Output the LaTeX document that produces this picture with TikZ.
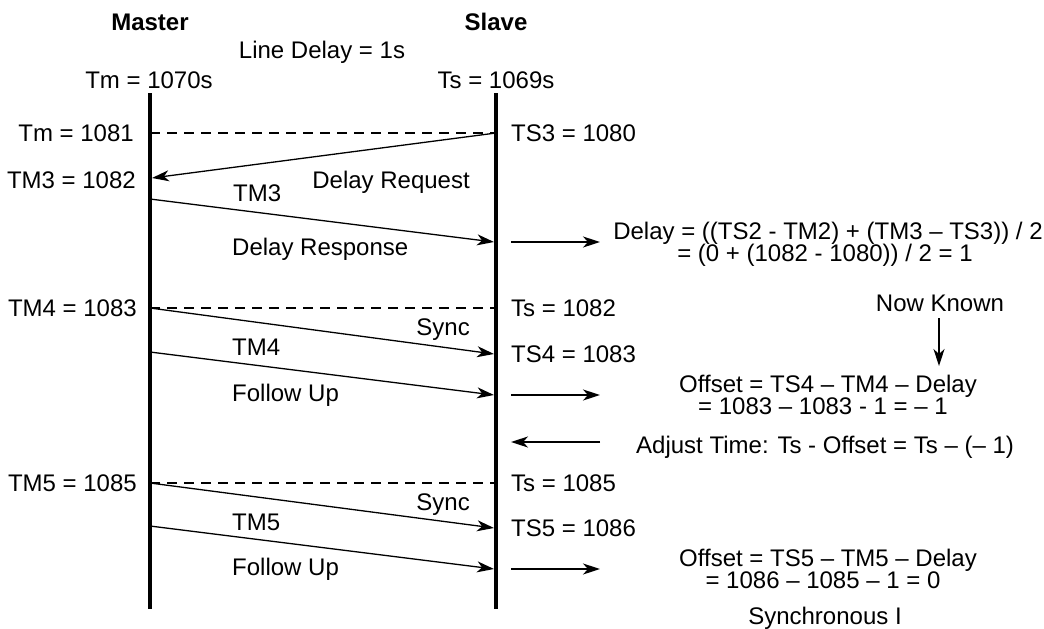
\documentclass[tikz,border=0pt]{standalone}
\usepackage{fontspec}
\setmainfont{Liberation Sans}
\usetikzlibrary{arrows.meta}
\begin{document}
\begin{tikzpicture}[x=1pt,y=-1pt,
  txt/.style={inner sep=0pt,font=\fontsize{24}{26}\selectfont,text height=17.2pt,text depth=0pt},
  hdr/.style={txt,font=\fontsize{24}{26}\selectfont\bfseries},
  life/.style={line width=3.2pt},
  msg/.style={line width=1.3pt,-{Stealth[length=17pt,width=11pt,inset=5pt]}},
  side/.style={line width=2pt,-{Stealth[length=17pt,width=11pt,inset=5pt]}},
  guide/.style={line width=1.5pt,dash pattern=on 10pt off 7pt}
]
\useasboundingbox (0,0) rectangle (1044,629);
% lifelines
\coordinate (mtop) at (150,93);  \coordinate (mbot) at (150,609);
\coordinate (stop) at (496,93);  \coordinate (sbot) at (496,609);
\draw[life] (mtop) -- (mbot);
\draw[life] (stop) -- (sbot);
% headers
\node[hdr] (master) at (150,22) {Master};
\node[hdr] (slave) at (496,22) {Slave};
\node[txt] (ld) at (322,50) {Line Delay = 1s};
\node[txt] (tm0) at (149,80) {Tm = 1070s};
\node[txt] (ts0) at (496,80) {Ts = 1069s};
% block 1: delay request / response
\coordinate (m1) at (150,133); \coordinate (s1) at (496,133);
\draw[guide] (m1) -- (s1);
\node[txt,anchor=east] (tm1081) at (134,133) {Tm = 1081};
\node[txt,anchor=west] (ts3) at (511,133) {TS3 = 1080};
\coordinate (m2) at (152,178);
\draw[msg] (s1) -- (m2);
\node[txt,anchor=east] (tm3v) at (136,180) {TM3 = 1082};
\node[txt,anchor=east] (dreq) at (470,180) {Delay Request};
\coordinate (m3) at (150,199); \coordinate (s3) at (494,242);
\draw[msg] (m3) -- (s3);
\node[txt,anchor=west] (tm3) at (233,193) {TM3};
\node[txt,anchor=west] (dresp) at (232,247) {Delay Response};
\coordinate (a1) at (511,242); \coordinate (b1) at (600,242);
\draw[side] (a1) -- (b1);
\node[txt] (delA) at (828,231) {Delay = ((TS2 - TM2) + (TM3 – TS3)) / 2};
\node[txt] (delB) at (825,253) {= (0 + (1082 - 1080)) / 2 = 1};
% block 2: sync / follow up
\coordinate (m4) at (150,308); \coordinate (s4) at (496,308);
\draw[guide] (m4) -- (s4);
\node[txt,anchor=east] (tm4v) at (137,308) {TM4 = 1083};
\node[txt,anchor=west] (ts1082) at (511,308) {Ts = 1082};
\coordinate (s4b) at (494,354);
\draw[msg] (m4) -- (s4b);
\node[txt,anchor=east] (sync1) at (470,327) {Sync};
\node[txt,anchor=west] (ts4) at (511,354) {TS4 = 1083};
\coordinate (m5) at (150,352); \coordinate (s5) at (494,395);
\draw[msg] (m5) -- (s5);
\node[txt,anchor=west] (tm4) at (232,347) {TM4};
\node[txt,anchor=west] (fu1) at (232,393) {Follow Up};
\coordinate (a2) at (511,395); \coordinate (b2) at (600,395);
\draw[side] (a2) -- (b2);
\node[txt] (nk) at (940,303) {Now Known};
\coordinate (nk1) at (939,318); \coordinate (nk2) at (939,366);
\draw[side,line width=1.5pt] (nk1) -- (nk2);
\node[txt] (offA) at (828,384) {Offset = TS4 – TM4 – Delay};
\node[txt] (offB) at (823,406) {= 1083 – 1083 - 1 = – 1};
\coordinate (a3) at (600,442); \coordinate (b3) at (511,442);
\draw[side] (a3) -- (b3);
\node[txt,anchor=west] (adj) at (636,445) {Adjust Time: Ts - Offset = Ts – (– 1)};
% block 3
\coordinate (m6) at (150,483); \coordinate (s6) at (496,483);
\draw[guide] (m6) -- (s6);
\node[txt,anchor=east] (tm5v) at (137,483) {TM5 = 1085};
\node[txt,anchor=west] (ts1085) at (511,483) {Ts = 1085};
\coordinate (s6b) at (494,528);
\draw[msg] (m6) -- (s6b);
\node[txt,anchor=east] (sync2) at (470,502) {Sync};
\node[txt,anchor=west] (ts5) at (511,528) {TS5 = 1086};
\coordinate (m7) at (150,526); \coordinate (s7) at (494,569);
\draw[msg] (m7) -- (s7);
\node[txt,anchor=west] (tm5) at (232,522) {TM5};
\node[txt,anchor=west] (fu2) at (232,567) {Follow Up};
\coordinate (a4) at (511,569); \coordinate (b4) at (600,569);
\draw[side] (a4) -- (b4);
\node[txt] (off2A) at (828,558) {Offset = TS5 – TM5 – Delay};
\node[txt] (off2B) at (823,580) {= 1086 – 1085 – 1 = 0};
\node[txt] (syncI) at (825,616) {Synchronous I};
\end{tikzpicture}
\end{document}
